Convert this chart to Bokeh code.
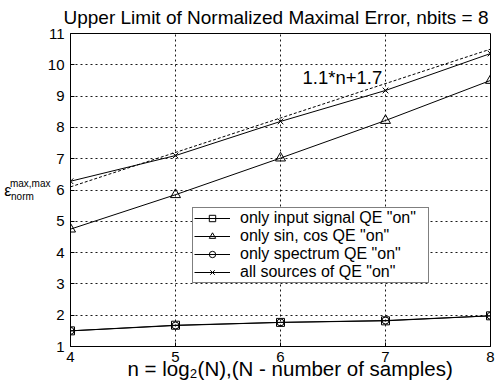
from bokeh.plotting import figure
from bokeh.models import (Label, Legend, LegendItem, FixedTicker, Range1d, Title,
                          LinearAxis)
from bokeh.embed import file_html
from bokeh.resources import INLINE

# ---- data ----
n_vals = [4, 5, 6, 7, 8]
input_qe = [1.50, 1.68, 1.77, 1.82, 1.98]
sincos_qe = [4.75, 5.85, 7.02, 8.22, 9.50]
spectrum_qe = [1.50, 1.67, 1.77, 1.83, 1.98]
all_qe = [6.28, 7.10, 8.19, 9.18, 10.36]
fit_n = [4, 8]
fit_vals = [6.1, 10.5]
x_ticks = [4, 5, 6, 7, 8]
y_ticks = [1, 2, 3, 4, 5, 6, 7, 8, 9, 10, 11]

FONT = "Liberation Sans"
NB = "\u00a0"
W, H = 499, 385
L, R, T, B = 70, 9, 33, 39
FB = H - B  # frame bottom in canvas px

p = figure(width=W, height=H, x_range=Range1d(4, 8), y_range=Range1d(1, 11),
           output_backend="svg", toolbar_location=None,
           min_border_left=L, min_border_right=R, min_border_top=T, min_border_bottom=B)
p.background_fill_color = "white"
p.border_fill_color = "white"
p.outline_line_color = "black"
p.outline_line_width = 1

for ax in (p.xaxis[0], p.yaxis[0]):
    ax.axis_line_color = "black"
    ax.major_tick_line_color = "black"
    ax.major_tick_in = 4
    ax.major_tick_out = 0
    ax.minor_tick_line_color = None
    ax.major_label_text_font = FONT
    ax.major_label_text_font_size = "15px"
    ax.major_label_text_color = "black"
p.xaxis.ticker = FixedTicker(ticks=x_ticks)
p.yaxis.ticker = FixedTicker(ticks=y_ticks)
p.xaxis.major_label_standoff = 5
p.yaxis.major_label_standoff = 6

for g in (p.xgrid[0], p.ygrid[0]):
    g.grid_line_color = "black"
    g.grid_line_dash = "2 3"
    g.grid_line_width = 1
    g.grid_line_alpha = 0.9

lc = "black"
l1 = p.line(n_vals, input_qe, line_color=lc, line_width=1)
m1 = p.scatter(n_vals, input_qe, marker="square", size=8, fill_color=None, line_color=lc)
l2 = p.line(n_vals, sincos_qe, line_color=lc, line_width=1)
m2 = p.scatter(n_vals, sincos_qe, marker="triangle", size=10, fill_color=None, line_color=lc)
l3 = p.line(n_vals, spectrum_qe, line_color=lc, line_width=1)
m3 = p.scatter(n_vals, spectrum_qe, marker="circle", size=7, fill_color=None, line_color=lc)
l4 = p.line(n_vals, all_qe, line_color=lc, line_width=1)
m4 = p.scatter(n_vals, all_qe, marker="x", size=8, line_color=lc)
p.line(fit_n, fit_vals, line_color="black", line_width=1, line_dash="3 2")

p.add_layout(Label(x=6.21, y=9.6, text="1.1*n+1.7", text_font=FONT, text_font_size="18.5px",
                   text_align="left", text_baseline="middle", text_color="black"))

legend = Legend(items=[
    LegendItem(label='only input signal QE "on"', renderers=[l1, m1]),
    LegendItem(label='only sin, cos QE "on"', renderers=[l2, m2]),
    LegendItem(label='only spectrum QE "on"', renderers=[l3, m3]),
    LegendItem(label='all sources of QE "on"', renderers=[l4, m4]),
], location=(192 - L, FB - 283))
legend.label_text_font = FONT
legend.label_text_font_size = "16px"
legend.label_text_color = "black"
legend.glyph_width = 36
legend.glyph_height = 16
legend.label_height = 16
legend.label_width = 187
legend.spacing = 0
legend.padding = 1
legend.margin = 0
legend.label_standoff = 10
legend.border_line_color = "black"
legend.border_line_width = 1
legend.background_fill_color = "white"
legend.background_fill_alpha = 1
p.add_layout(legend)

# main title (above the frame)
p.title = Title(text="Upper Limit of Normalized Maximal Error, nbits = 8",
                text_font=FONT, text_font_size="19px", text_font_style="normal",
                text_color="black", align="left", offset=-7,
                vertical_align="middle", standoff=9)

# x-axis label as a title below the axis
p.add_layout(Title(text="n = log\u2082(N),(N - number of samples)",
                   text_font=FONT, text_font_size="20.5px", text_font_style="normal",
                   text_color="black", align="left", offset=57,
                   vertical_align="middle", standoff=-17), "below")


def label_axis(text, size, standoff):
    ax = LinearAxis(ticker=FixedTicker(ticks=[]), axis_label=text)
    ax.axis_line_color = None
    ax.major_tick_line_color = None
    ax.minor_tick_line_color = None
    ax.major_tick_in = 0
    ax.major_tick_out = 0
    ax.minor_tick_in = 0
    ax.minor_tick_out = 0
    ax.major_label_standoff = 0
    ax.axis_label_text_font = FONT
    ax.axis_label_text_font_size = size
    ax.axis_label_text_font_style = "normal"
    ax.axis_label_text_color = "black"
    ax.axis_label_standoff = standoff
    ax.axis_label_orientation = "horizontal"
    p.add_layout(ax, "left")


# y-axis label: epsilon with stacked superscript / subscript
label_axis("max,max\nnorm" + NB * 6, "10px", -6)
label_axis("\u03b5", "16px", -5)

open("out.html", "w").write(file_html(p, INLINE))
